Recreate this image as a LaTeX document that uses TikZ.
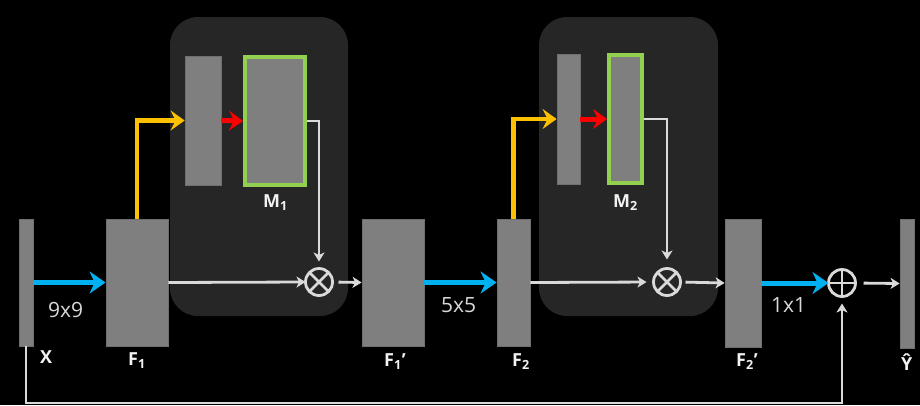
\documentclass[tikz,border=0pt]{standalone}
\usepackage{fontspec}
\setmainfont{Open Sans}
\usetikzlibrary{arrows.meta}
\definecolor{panelc}{HTML}{262626}
\definecolor{barg}{HTML}{7F7F7F}
\definecolor{bard}{HTML}{6F6F6F}
\definecolor{maskg}{HTML}{92D050}
\definecolor{linec}{HTML}{DADADA}
\definecolor{bluec}{HTML}{00B0F0}
\definecolor{orangec}{HTML}{FFC000}
\definecolor{redc}{HTML}{FF0000}
\definecolor{labc}{HTML}{F2F2F2}
\definecolor{dimc}{HTML}{D9D9D9}
\tikzset{
 bar/.style={rectangle, fill=barg, draw=bard, line width=0.8pt, inner sep=0pt},
 panel/.style={rectangle, fill=panelc, rounded corners=28pt, inner sep=0pt},
 maskbox/.style={rectangle, fill=barg, draw=maskg, line width=4pt, inner sep=0pt},
 opnode/.style={circle, draw=linec, line width=2.8pt, minimum size=27pt, inner sep=0pt, outer sep=0pt},
 wline/.style={draw=linec, line width=2.8pt, -{Stealth[length=9pt,width=11pt,inset=2.5pt]}},
 bluea/.style={draw=bluec, line width=5pt, -{Stealth[length=16pt,width=22pt,inset=5pt]}},
 oranga/.style={draw=orangec, line width=4.5pt, -{Stealth[length=14pt,width=20pt,inset=5pt]}},
 reda/.style={draw=redc, line width=5pt, -{Stealth[length=14pt,width=20pt,inset=5pt]}},
 lbl/.style={font=\bfseries\fontsize{18}{20}\selectfont, text=labc, inner sep=0pt, anchor=base west},
 dimlbl/.style={font=\fontsize{21}{24}\selectfont, text=dimc, inner sep=0pt, anchor=base west},
}
\begin{document}
\begin{tikzpicture}[x=1pt,y=-1pt]
\fill[black] (0,0) rectangle (920,405);
\useasboundingbox (0,0) rectangle (920,405);
% panels
\node[panel, minimum width=178pt, minimum height=299pt] (P1) at (259,166.5) {};
\node[panel, minimum width=179pt, minimum height=299pt] (P2) at (628.5,166.5) {};
% bars
\node[bar, minimum width=14pt, minimum height=127pt] (X) at (26,282.5) {};
\node[bar, minimum width=62pt, minimum height=127pt] (F1) at (137,282.5) {};
\node[bar, minimum width=62pt, minimum height=127pt] (F1p) at (393,282.5) {};
\node[bar, minimum width=33pt, minimum height=127pt] (F2) at (513.5,282.5) {};
\node[bar, minimum width=36pt, minimum height=128pt] (F2p) at (743,283) {};
\node[bar, minimum width=14pt, minimum height=129pt] (Y) at (907,283.5) {};
\node[bar, minimum width=36pt, minimum height=129pt] (S1) at (203,120.5) {};
\node[bar, minimum width=23pt, minimum height=130pt] (S2) at (568.5,119) {};
\node[maskbox, minimum width=60pt, minimum height=128pt] (M1) at (275,121) {};
\node[maskbox, minimum width=33pt, minimum height=128pt] (M2) at (625.5,119) {};
% operators
\node[opnode] (O1) at (319,282) {};
\node[opnode] (O2) at (667,282) {};
\node[opnode] (A1) at (842,283) {};
\draw[linec, line width=2.8pt] (O1.north east) -- (O1.south west) (O1.north west) -- (O1.south east);
\draw[linec, line width=2.8pt] (O2.north east) -- (O2.south west) (O2.north west) -- (O2.south east);
\draw[linec, line width=2.8pt] (A1.north) -- (A1.south) (A1.west) -- (A1.east);
% connectors
\draw[bluea] (X.east) -- (F1.west);
\draw[bluea] (F1p.east) -- (F2.west);
\draw[bluea] (F2p.east) -- (A1.west);
\draw[oranga] (F1.north) |- (S1.west);
\draw[oranga] (F2.north) |- (S2.west);
\draw[reda] (S1.east) -- (M1.west);
\draw[reda] (S2.east) -- (M2.west);
\draw[wline] (F1.east) -- (O1.west);
\draw[wline, shorten >=7pt] (M1.east) -| (O1.north);
\draw[wline, shorten <=6pt] (O1.east) -- (F1p.west);
\draw[wline, shorten >=7pt] (F2.east) -- (O2.west);
\draw[wline, shorten >=9pt] (M2.east) -| (O2.north);
\draw[wline, shorten <=5pt] (O2.east) -- (F2p.west);
\draw[wline, shorten <=8pt] (A1.east) -- (Y.west);
\coordinate (fb) at (842,403);
\draw[wline, shorten >=7pt] (X.south) |- (fb) -- (A1.south);
% labels
\node[dimlbl] (d1) at (48,317) {9x9};
\node[dimlbl] (d2) at (441,312) {5x5};
\node[dimlbl] (d3) at (771,312) {1x1};
\node[lbl] (lX) at (40,363) {X};
\node[lbl] (lF1) at (128,365) {F\textsubscript{1}};
\node[lbl] (lF1p) at (384,366) {F\textsubscript{1}’};
\node[lbl] (lF2) at (512,366) {F\textsubscript{2}};
\node[lbl] (lF2p) at (736,366) {F\textsubscript{2}’};
\node[lbl] (lY) at (901,370) {Ŷ};
\node[lbl] (lM1) at (263,207) {M\textsubscript{1}};
\node[lbl] (lM2) at (613,207) {M\textsubscript{2}};
\end{tikzpicture}
\end{document}
